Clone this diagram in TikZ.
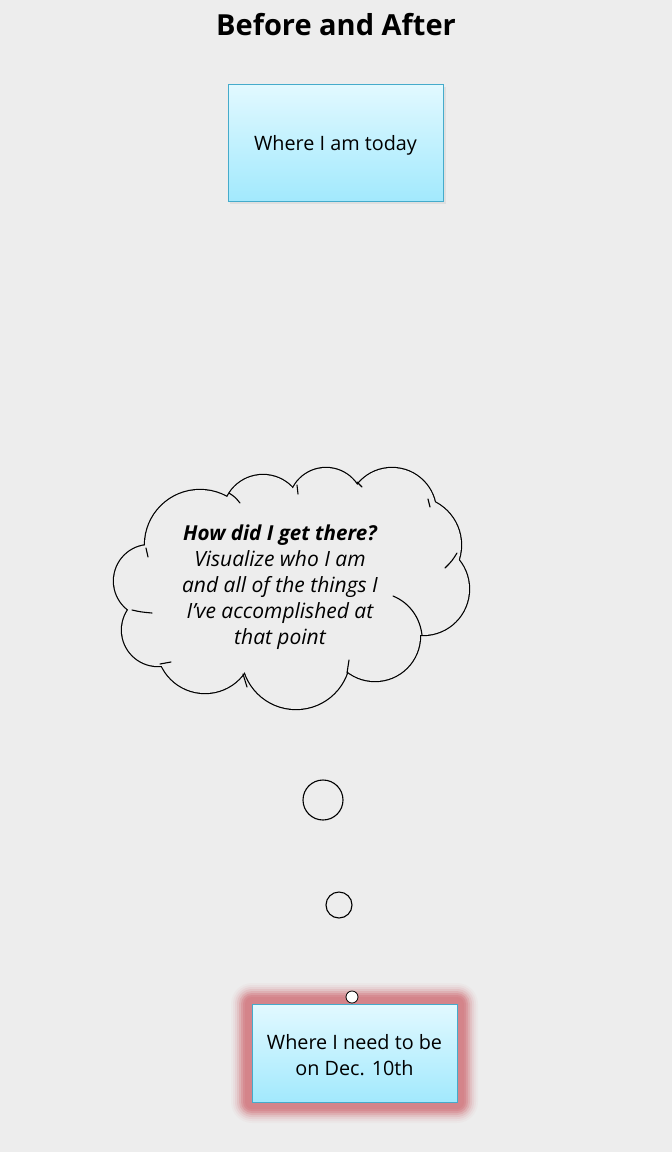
\documentclass[tikz,border=0pt]{standalone}
\usepackage{fontspec}
\setmainfont{Open Sans}
\definecolor{bg}{RGB}{237,237,237}
\definecolor{boxtop}{RGB}{226,249,255}
\definecolor{boxbot}{RGB}{162,233,253}
\definecolor{boxline}{RGB}{69,171,203}
\definecolor{glow}{RGB}{212,128,134}
\tikzset{
  boxnode/.style={draw=boxline, line width=0.9pt, top color=boxtop, bottom color=boxbot, inner sep=0pt},
  boxtext/.style={align=center, font=\fontsize{19.8}{26}\selectfont, inner sep=0pt},
  bubble/.style={circle, draw=black, line width=1.1pt, inner sep=0pt},
  cloudtext/.style={align=center, font=\fontsize{21}{26}\selectfont\itshape, inner sep=0pt},
  stub/.style={line width=1.1pt, line cap=round},
}
\begin{document}
\begin{tikzpicture}[x=1pt,y=-1pt]
\fill[bg] (0,0) rectangle (672,1152);
\useasboundingbox (0,0) rectangle (672,1152);

% title
\node[font=\fontsize{29}{34}\selectfont\bfseries, inner sep=0pt] (title) at (336,25) {Before and After};

% top box with soft shadow
\fill[black, opacity=0.06] (230,87) rectangle (446,204);
\node[boxnode, minimum width=215pt, minimum height=117pt] (today) at (335.5,142.5) {};
\node[boxtext] (todaytxt) at ([yshift=-3pt]today.center) {Where I am today};

% cloud
\begin{scope}
  \foreach \cx/\cy/\r in {150/581/36, 158/630/36, 205/645/48, 296/655/54, 375/636/45,
      423/589/46, 413/545/48, 392/512/44, 326/505/37, 263/515/40, 200/545/55}{
    \draw[line width=2.4pt] (\cx,\cy) circle[radius=\r pt];
  }
  \foreach \cx/\cy/\r in {150/581/36, 158/630/36, 205/645/48, 296/655/54, 375/636/45,
      423/589/46, 413/545/48, 392/512/44, 326/505/37, 263/515/40, 200/545/55}{
    \fill[bg] (\cx,\cy) circle[radius=\r pt];
  }
  \fill[bg] (290,588) ellipse[x radius=145pt, y radius=80pt];
\end{scope}
\draw[stub] (146,548) .. controls (147,552) .. (148,557);
\draw[stub] (132,610) .. controls (141,612) .. (152,613);
\draw[stub] (160,664) .. controls (165,663) .. (171,662);
\draw[stub] (243,674) .. controls (245,680) .. (247,687);
\draw[stub] (349,660) .. controls (348,666) .. (347,673);
\draw[stub] (393,596) .. controls (410,603) and (420,618) .. (422,635);
\draw[stub] (457,553) .. controls (452,561) .. (445,568);
\draw[stub] (428,499) .. controls (429,503) .. (430,507);
\draw[stub] (297,485) .. controls (297,489) .. (298,494);
\draw[stub] (357,482) .. controls (359,484) .. (362,487);
\draw[stub] (229,493) .. controls (235,497) .. (240,503);
\node[cloudtext] (cloudtxt) at (280,587) {{\fontsize{20.6}{26}\selectfont\bfseries How did I get there?}\\Visualize who I am\\and all of the things I\\I’ve accomplished at\\that point};

% thought bubbles
\node[bubble, minimum size=40pt] (b1) at (323,800) {};
\node[bubble, minimum size=26pt] (b2) at (339,905) {};

% glow around bottom box
\foreach \d/\o in {21/0.05, 19/0.08, 17/0.12, 15/0.18, 13/0.28, 11/0.4, 9/0.55, 7/0.65} {
  \fill[glow, opacity=\o, rounded corners=\d pt] (252-\d,1004-\d) rectangle (457+\d,1102+\d);
}
\node[boxnode, minimum width=205pt, minimum height=98pt] (dec) at (354.5,1053) {};
\node[boxtext] (dectxt) at ([yshift=-2pt]dec.center) {Where I need to be\\on Dec. 10th};
\node[circle, draw=black, fill=white, line width=0.8pt, minimum size=12pt, inner sep=0pt] (b3) at (352,997) {};
\end{tikzpicture}
\end{document}
